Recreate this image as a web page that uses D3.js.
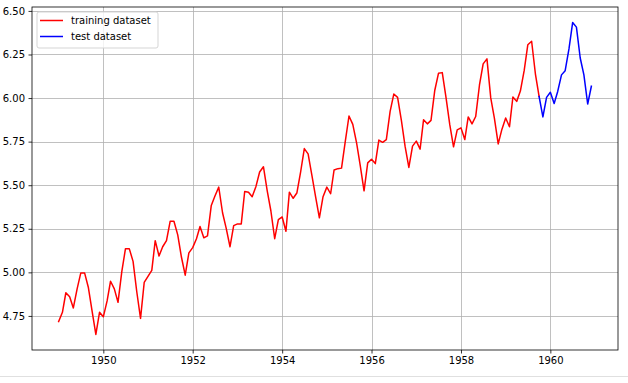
<!DOCTYPE html>
<html>
<head>
<meta charset="utf-8">
<script src="https://cdn.jsdelivr.net/npm/d3@7"></script>
<style>
  body { margin: 0; background: #fff; }
  text { font-family: "DejaVu Sans", sans-serif; font-size: 10px; fill: #000; }
</style>
</head>
<body>
<div id="chart"></div>
<script>
// log of monthly airline passengers, training part (Jan 1949 - Oct 1959)
var trainStart = new Date(1949, 0, 1);
var trainValues = [
  4.718, 4.771, 4.883, 4.860, 4.796, 4.905, 4.997, 4.997, 4.913, 4.779, 4.644, 4.771,
  4.745, 4.836, 4.949, 4.905, 4.828, 5.004, 5.136, 5.136, 5.063, 4.890, 4.736, 4.942,
  4.977, 5.011, 5.182, 5.094, 5.147, 5.182, 5.293, 5.293, 5.215, 5.088, 4.984, 5.112,
  5.142, 5.193, 5.263, 5.198, 5.209, 5.384, 5.438, 5.489, 5.342, 5.252, 5.147, 5.268,
  5.278, 5.278, 5.464, 5.460, 5.434, 5.493, 5.576, 5.606, 5.468, 5.352, 5.193, 5.303,
  5.318, 5.236, 5.460, 5.425, 5.455, 5.576, 5.710, 5.680, 5.557, 5.434, 5.313, 5.434,
  5.489, 5.451, 5.587, 5.595, 5.598, 5.753, 5.897, 5.849, 5.743, 5.613, 5.468, 5.628,
  5.649, 5.624, 5.759, 5.746, 5.762, 5.924, 6.023, 6.004, 5.872, 5.724, 5.602, 5.724,
  5.753, 5.707, 5.875, 5.852, 5.872, 6.045, 6.142, 6.146, 6.001, 5.849, 5.720, 5.817,
  5.829, 5.762, 5.892, 5.852, 5.894, 6.075, 6.196, 6.225, 6.001, 5.883, 5.737, 5.820,
  5.886, 5.835, 6.006, 5.981, 6.040, 6.157, 6.306, 6.326, 6.138, 6.009
];
// test part (Oct 1959 - Dec 1960)
var testStart = new Date(1959, 9, 1);
var testValues = [
  6.009, 5.892, 6.004,
  6.033, 5.969, 6.038, 6.133, 6.157, 6.282, 6.433, 6.407, 6.230, 6.133, 5.966, 6.068
];
var yTicks = [4.75, 5.00, 5.25, 5.50, 5.75, 6.00, 6.25, 6.50];
var xTickYears = [1950, 1952, 1954, 1956, 1958, 1960];
var seriesNames = ["training dataset", "test dataset"];
var seriesColors = ["red", "blue"];

function toPoints(start, values) {
  return values.map(function(v, i) {
    return { date: new Date(start.getFullYear(), start.getMonth() + i, 1), value: v };
  });
}
var train = toPoints(trainStart, trainValues);
var test = toPoints(testStart, testValues);
var all = train.concat(test);

var W = 628, H = 383;
var margin = {top: 7, right: 10, bottom: 33, left: 32},
  width = W - margin.left - margin.right,
  height = H - margin.top - margin.bottom;

var svg = d3.select("#chart")
.append("svg")
  .attr("width", W)
  .attr("height", H);

// jupyter output separator line
svg.append("line")
  .attr("x1", 0).attr("x2", W)
  .attr("y1", 376.5).attr("y2", 376.5)
  .style("stroke", "#e0e0e0");

var g = svg.append("g")
  .attr("transform", "translate(" + margin.left + "," + margin.top + ")");

// matplotlib-like 5% margins
var tExt = d3.extent(all, function(d) { return +d.date; });
var tPad = (tExt[1] - tExt[0]) * 0.05;
var vExt = d3.extent(all, function(d) { return d.value; });
var vPad = (vExt[1] - vExt[0]) * 0.05;

var x = d3.scaleTime()
  .domain([new Date(tExt[0] - tPad), new Date(tExt[1] + tPad)])
  .range([0, width]);
var y = d3.scaleLinear()
  .domain([vExt[0] - vPad, vExt[1] + vPad])
  .range([height, 0]);

var xTicks = xTickYears.map(function(yr) { return new Date(yr, 0, 1); });

// grid
g.append("g")
  .selectAll("line")
  .data(xTicks)
  .enter()
  .append("line")
    .attr("x1", function(d) { return Math.round(x(d)) + 0.5; })
    .attr("x2", function(d) { return Math.round(x(d)) + 0.5; })
    .attr("y1", 0).attr("y2", height)
    .style("stroke", "#b0b0b0").style("stroke-width", 0.8);
g.append("g")
  .selectAll("line")
  .data(yTicks)
  .enter()
  .append("line")
    .attr("y1", function(d) { return Math.round(y(d)) + 0.5; })
    .attr("y2", function(d) { return Math.round(y(d)) + 0.5; })
    .attr("x1", 0).attr("x2", width)
    .style("stroke", "#b0b0b0").style("stroke-width", 0.8);

// axes
var xAxis = g.append("g")
  .attr("transform", "translate(0," + height + ")")
  .call(d3.axisBottom(x).tickValues(xTicks).tickFormat(d3.timeFormat("%Y")).tickSizeInner(3.5).tickSizeOuter(0).tickPadding(3.5));
var yAxis = g.append("g")
  .call(d3.axisLeft(y).tickValues(yTicks).tickFormat(d3.format(".2f")).tickSizeInner(3.5).tickSizeOuter(0).tickPadding(3.5));
[xAxis, yAxis].forEach(function(a) {
  a.select(".domain").remove();
  a.selectAll("line").style("stroke", "#000").style("stroke-width", 0.8);
  a.selectAll("text").style("font-family", "'DejaVu Sans', sans-serif").style("font-size", "10px").attr("fill", "#000");
});

// lines
var line = d3.line()
  .x(function(d) { return x(d.date); })
  .y(function(d) { return y(d.value); });

[train, test].forEach(function(s, i) {
  g.append("path")
    .datum(s)
    .attr("d", line)
    .style("fill", "none")
    .style("stroke", seriesColors[i])
    .style("stroke-width", 1.5)
    .style("stroke-linejoin", "round")
    .style("stroke-linecap", "square");
});

// frame
g.append("rect")
  .attr("x", 0).attr("y", 0)
  .attr("width", width).attr("height", height)
  .style("fill", "none")
  .style("stroke", "#000")
  .style("stroke-width", 0.8);

// legend
var legend = g.append("g").attr("transform", "translate(5,5)");
legend.append("rect")
  .attr("x", 0).attr("y", 0)
  .attr("width", 121).attr("height", 36)
  .attr("rx", 2)
  .style("fill", "rgba(255,255,255,0.8)")
  .style("stroke", "#d5d5d5")
  .style("stroke-width", 1);
seriesNames.forEach(function(name, i) {
  var ly = 8.5 + i * 16;
  legend.append("line")
    .attr("x1", 3).attr("x2", 26)
    .attr("y1", ly).attr("y2", ly)
    .style("stroke", seriesColors[i])
    .style("stroke-width", 1.5);
  legend.append("text")
    .attr("x", 34).attr("y", ly)
    .attr("dy", "0.35em")
    .text(name);
});
</script>
</body>
</html>
